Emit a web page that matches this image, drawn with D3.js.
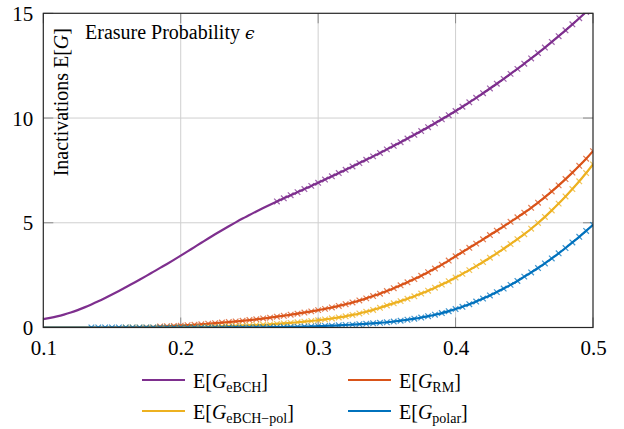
<!DOCTYPE html>
<html><head><meta charset="utf-8">
<script src="https://cdn.jsdelivr.net/npm/d3@7"></script>
<style>body{margin:0;background:#fff}svg{display:block}text{font-family:"Liberation Serif","DejaVu Serif",serif;fill:#000}</style>
</head><body><svg id="c" width="624" height="429"></svg>
<script>
const eps = [0.100,0.105,0.110,0.115,0.120,0.125,0.130,0.135,0.140,0.145,0.150,0.155,0.160,0.165,0.170,0.175,0.180,0.185,0.190,0.195,0.200,
0.205,0.210,0.215,0.220,0.225,0.230,0.235,0.240,0.245,0.250,0.255,0.260,0.265,0.270,0.275,0.280,0.285,0.290,0.295,0.300,
0.305,0.310,0.315,0.320,0.325,0.330,0.335,0.340,0.345,0.350,0.355,0.360,0.365,0.370,0.375,0.380,0.385,0.390,0.395,0.400,
0.405,0.410,0.415,0.420,0.425,0.430,0.435,0.440,0.445,0.450,0.455,0.460,0.465,0.470,0.475,0.480,0.485,0.490,0.495,0.500];
const gEBCH = [0.40,0.46,0.53,0.615,0.715,0.83,0.96,1.10,1.25,1.41,1.575,1.745,1.92,2.10,2.28,2.465,2.655,2.845,3.035,3.23,3.43,
3.635,3.84,4.045,4.25,4.45,4.645,4.835,5.02,5.20,5.37,5.54,5.705,5.865,6.02,6.17,6.318,6.464,6.61,6.76,6.91,
7.063,7.218,7.373,7.53,7.688,7.848,8.008,8.17,8.335,8.503,8.673,8.845,9.02,9.198,9.378,9.563,9.75,9.94,10.135,10.335,
10.54,10.75,10.965,11.185,11.41,11.638,11.87,12.108,12.348,12.595,12.845,13.10,13.363,13.633,13.908,14.188,14.473,14.765,15.065,15.37];
const gRM = [0,0,0,0,0,0,0,0,0,0,0.005,0.007,0.01,0.015,0.02,0.028,0.037,0.048,0.06,0.075,0.09,
0.11,0.13,0.155,0.18,0.205,0.235,0.26,0.29,0.32,0.355,0.39,0.43,0.47,0.515,0.56,0.61,0.66,0.715,0.77,0.83,
0.89,0.955,1.03,1.11,1.195,1.29,1.39,1.5,1.615,1.74,1.875,2.015,2.16,2.31,2.47,2.64,2.815,3.0,3.195,3.4,
3.605,3.805,4.005,4.21,4.415,4.62,4.83,5.045,5.26,5.48,5.715,5.96,6.22,6.495,6.785,7.085,7.395,7.72,8.06,8.42];
const gEBCHpol = [0,0,0,0,0,0,0,0,0,0,0,0,0,0,0,0.002,0.003,0.005,0.007,0.01,0.013,
0.017,0.022,0.028,0.035,0.043,0.052,0.063,0.075,0.088,0.10,0.115,0.13,0.15,0.17,0.195,0.22,0.25,0.28,0.31,0.345,
0.385,0.43,0.48,0.535,0.60,0.67,0.75,0.84,0.94,1.055,1.155,1.26,1.37,1.49,1.62,1.755,1.90,2.05,2.21,2.385,
2.56,2.74,2.93,3.125,3.33,3.54,3.76,3.985,4.215,4.455,4.715,4.99,5.28,5.59,5.915,6.255,6.61,6.98,7.375,7.785];
const gPolar = [0,0,0,0,0,0,0,0,0,0,0,0,0,0,0,0,0,0,0,0,0,
0,0,0,0,0,0,0.002,0.003,0.004,0.006,0.008,0.011,0.014,0.018,0.023,0.029,0.036,0.044,0.053,0.064,
0.076,0.089,0.104,0.12,0.138,0.157,0.177,0.199,0.223,0.25,0.285,0.325,0.37,0.42,0.477,0.54,0.61,0.688,0.78,0.88,
0.99,1.11,1.24,1.38,1.53,1.69,1.86,2.035,2.22,2.43,2.63,2.84,3.06,3.295,3.54,3.795,4.06,4.33,4.61,4.90];

const seriesNames = ["eBCH","RM","eBCH−pol","polar"];
const seriesValues = [gEBCH, gRM, gEBCHpol, gPolar];
const markerStart = [0.27, 0.185, 0.16, 0.135];
const colors = ["#7E2F8E","#D95319","#EDB120","#0072BD"];
const xTicks = [0.1,0.2,0.3,0.4,0.5];
const yTicks = [0,5,10,15];

const svg = d3.select("#c");
const L=43.3, R=593, T=13.3, B=327.5;
const x = d3.scaleLinear().domain([0.1,0.5]).range([L,R]);
const y = d3.scaleLinear().domain([0,15]).range([B,T]);

// grid
svg.append("g").selectAll("line").data(xTicks.slice(1,-1)).join("line")
  .attr("x1",d=>x(d)).attr("x2",d=>x(d)).attr("y1",T).attr("y2",B)
  .attr("stroke","#cfcfcf").attr("stroke-width",1);
svg.append("g").selectAll("line").data(yTicks.slice(1,-1)).join("line")
  .attr("y1",d=>y(d)).attr("y2",d=>y(d)).attr("x1",L).attr("x2",R)
  .attr("stroke","#cfcfcf").attr("stroke-width",1);

// inner ticks
const tk = svg.append("g").attr("stroke","#8a8a8a").attr("stroke-width",1);
xTicks.forEach(t=>{
  tk.append("line").attr("x1",x(t)).attr("x2",x(t)).attr("y1",B).attr("y2",B-10);
  tk.append("line").attr("x1",x(t)).attr("x2",x(t)).attr("y1",T).attr("y2",T+10);
});
yTicks.forEach(t=>{
  tk.append("line").attr("y1",y(t)).attr("y2",y(t)).attr("x1",L).attr("x2",L+10);
  tk.append("line").attr("y1",y(t)).attr("y2",y(t)).attr("x1",R).attr("x2",R-10);
});

// tick labels via axes
const xAxis = svg.append("g").attr("transform",`translate(0,${B})`)
  .call(d3.axisBottom(x).tickValues(xTicks).tickFormat(d3.format(".1f")).tickSize(0).tickPadding(10));
xAxis.select(".domain").remove();
xAxis.selectAll("text").attr("font-size",21).attr("font-family","Liberation Serif, serif").attr("dy","0.85em");
const yAxis = svg.append("g").attr("transform",`translate(${L},0)`)
  .call(d3.axisLeft(y).tickValues(yTicks).tickFormat(d3.format("d")).tickSize(0).tickPadding(10));
yAxis.select(".domain").remove();
yAxis.selectAll("text").attr("font-size",21).attr("font-family","Liberation Serif, serif").attr("dy","0.34em");

// clip
svg.append("clipPath").attr("id","clip").append("rect")
  .attr("x",L).attr("y",T).attr("width",R-L).attr("height",B-T);
const plot = svg.append("g").attr("clip-path","url(#clip)");

const line = d3.line().x(d=>x(d[0])).y(d=>y(d[1])).curve(d3.curveMonotoneX);
seriesValues.forEach((vals,i)=>{
  const pts = eps.map((e,k)=>[e,vals[k]]);
  plot.append("path").datum(pts).attr("d",line).attr("fill","none")
    .attr("stroke",colors[i]).attr("stroke-width",2.2).attr("stroke-linejoin","round");
  const mk = pts.filter(p=>p[0] >= markerStart[i]-1e-9);
  const s = 2.8;
  plot.append("g").selectAll("path").data(mk).join("path")
    .attr("d",p=>{const cx=x(p[0]), cy=y(p[1]);
      return `M${cx-s},${cy-s}L${cx+s},${cy+s}M${cx-s},${cy+s}L${cx+s},${cy-s}`;})
    .attr("stroke",colors[i]).attr("stroke-opacity",0.75).attr("stroke-width",1.2).attr("fill","none");
});

// frame
svg.append("rect").attr("x",L).attr("y",T).attr("width",R-L).attr("height",B-T)
  .attr("fill","none").attr("stroke","#262626").attr("stroke-width",1.2);

// labels
svg.append("text").attr("x",85).attr("y",38.5).attr("font-size",20)
  .html('Erasure Probability <tspan font-style="italic" font-family="DejaVu Serif" font-size="17">ϵ</tspan>');
svg.append("text").attr("transform","translate(68,28) rotate(-90)").attr("text-anchor","end")
  .attr("font-size",20)
  .html('Inactivations  E[<tspan font-style="italic">G</tspan>]');

// legend
const legPos = [[142,380],[348,380],[142,411],[348,411]];
seriesNames.forEach((n,i)=>{
  const [lx,ly] = legPos[i];
  svg.append("line").attr("x1",lx).attr("x2",lx+43).attr("y1",ly).attr("y2",ly)
    .attr("stroke",colors[i]).attr("stroke-width",2.2);
  svg.append("text").attr("x",lx+51).attr("y",ly+7.5).attr("font-size",20)
    .html(`E[<tspan font-style="italic">G</tspan><tspan font-size="14" dy="4">${n}</tspan><tspan dy="-4">]</tspan>`);
});
</script></body></html>
